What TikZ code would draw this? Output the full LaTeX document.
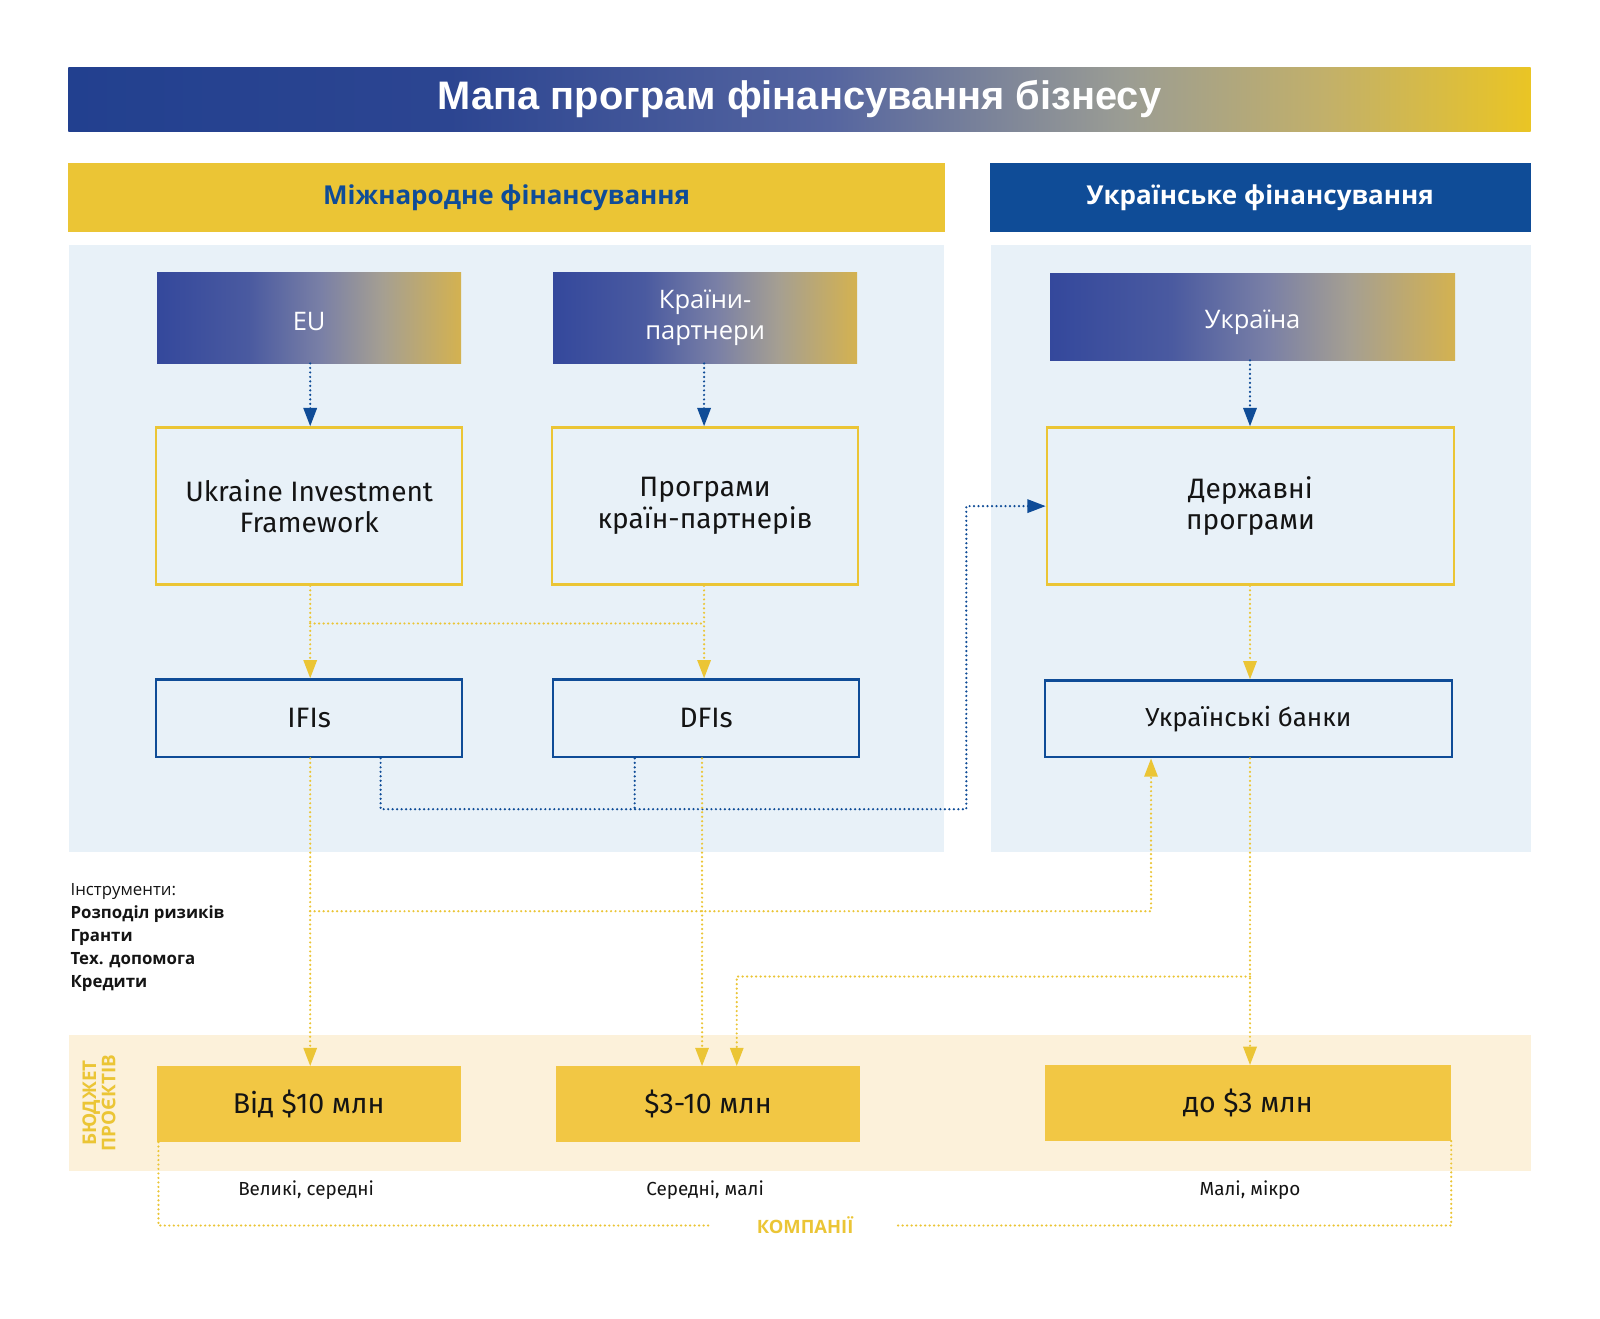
\documentclass[tikz,border=0pt]{standalone}
\usepackage{fontspec}
\setmainfont{Fira Sans}
\newfontfamily\titlefont{Liberation Sans}
\newfontfamily\hdrfont{Open Sans}
\usetikzlibrary{arrows.meta,calc}
\definecolor{navy}{HTML}{0F4C97}
\definecolor{gold}{HTML}{EBC535}
\definecolor{bgold}{HTML}{F2C744}
\definecolor{panel}{HTML}{E8F1F8}
\definecolor{cream}{HTML}{FCF1DA}
\definecolor{ink}{HTML}{141414}
\definecolor{tbA}{HTML}{22408F}
\definecolor{tbB}{HTML}{2C4591}
\definecolor{tbC}{HTML}{5565A0}
\definecolor{tbD}{HTML}{9A9C94}
\definecolor{tbE}{HTML}{C2B06A}
\definecolor{tbF}{HTML}{EAC524}
\definecolor{sbA}{HTML}{34489C}
\definecolor{sbB}{HTML}{4A5AA0}
\definecolor{sbC}{HTML}{7A80A6}
\definecolor{sbD}{HTML}{A59F92}
\definecolor{sbE}{HTML}{D4B250}
\pgfdeclarehorizontalshading{titleshade}{100bp}{color(0bp)=(tbA); color(25bp)=(tbA); color(38bp)=(tbB); color(51bp)=(tbC); color(61bp)=(tbD); color(68bp)=(tbE); color(75bp)=(tbF); color(100bp)=(tbF)}
\pgfdeclarehorizontalshading{boxshade}{100bp}{color(0bp)=(sbA); color(25bp)=(sbA); color(40bp)=(sbB); color(52bp)=(sbC); color(62bp)=(sbD); color(75bp)=(sbE); color(100bp)=(sbE)}
\begin{document}
\begin{tikzpicture}[x=1pt,y=-1pt,
  gbox/.style={shade,shading=boxshade,minimum width=298pt,minimum height=89pt,inner sep=0pt,text=white,align=center,font=\hdrfont\fontsize{25}{30}\selectfont},
  ybox/.style={draw=gold,line width=2.4pt,minimum width=300pt,minimum height=154pt,inner sep=0pt,text=ink,align=center,font=\fontsize{27.5}{31}\selectfont},
  bbox/.style={draw=navy,line width=2.4pt,minimum width=300pt,minimum height=76pt,inner sep=0pt,text=ink,align=center,font=\fontsize{27.5}{31}\selectfont},
  budget/.style={fill=bgold,minimum width=298pt,minimum height=74pt,inner sep=0pt,text=ink,font=\fontsize{28}{30}\selectfont},
  lbl/.style={text=ink,font=\fontsize{18.5}{22}\selectfont},
  bdot/.style={navy,line width=2.4pt,line cap=round,dash pattern=on 0pt off 4.4pt},
  ydot/.style={gold,line width=2.4pt,line cap=round,dash pattern=on 0pt off 4.4pt},
  tip/.style={-{Triangle[width=13pt,length=18pt]}}
]
\useasboundingbox (0,0) rectangle (1568,1292);
\fill[white] (0,0) rectangle (1568,1292);

% title
\node[shade,shading=titleshade,minimum width=1433pt,minimum height=63pt,inner sep=0pt,text=white,font=\titlefont\bfseries\fontsize{39}{42}\selectfont] (title) at (783.5,97.5) {Мапа програм фінансування бізнесу};

% headers
\node[fill=gold,minimum width=859pt,minimum height=67pt,inner sep=0pt,text=navy,font=\hdrfont\bfseries\fontsize{25.5}{30}\selectfont] (hdrL) at (496.5,193.5) {Міжнародне фінансування};
\node[fill=navy,minimum width=530pt,minimum height=67pt,inner sep=0pt,text=white,font=\hdrfont\bfseries\fontsize{25.5}{30}\selectfont] (hdrR) at (1235,193.5) {Українське фінансування};

% panels
\fill[panel] (68,240) rectangle (925,835);
\fill[panel] (971,240) rectangle (1500,835);
\fill[cream] (68,1014) rectangle (1500,1148);

% top gradient boxes
\node[gbox,text height=24pt,text depth=0pt] (eu) at (303,311.5) {EU};
\node[gbox] (kp) at (691,311.5) {Країни-\\партнери};
\node[gbox,minimum width=397pt,minimum height=85pt,text height=23pt,text depth=0pt] (ua) at (1227.5,310.5) {Україна};

% programme boxes
\node[ybox] (uif) at (303,496) {Ukraine Investment\\Framework};
\node[ybox] (pkp) at (691,496) {Програми\\країн-партнерів};
\node[ybox,minimum width=399pt] (dp) at (1225.5,496) {Державні\\програми};

% institutions
\node[bbox] (ifi) at (303,704) {IFIs};
\node[bbox] (dfi) at (692,704) {DFIs};
\node[bbox,minimum width=399pt,minimum height=75pt,font=\fontsize{25.5}{31}\selectfont] (ub) at (1223.5,704.5) {Українські банки};

% budgets
\node[budget] (b1) at (302.5,1082) {Від \$10 млн};
\node[budget] (b2) at (694,1082) {\$3-10 млн};
\node[budget,minimum width=398pt] (b3) at (1223,1081) {до \$3 млн};

\node[lbl] (l1) at (300,1166) {Великі, середні};
\node[lbl] (l2) at (691,1166) {Середні, малі};
\node[lbl] (l3) at (1225,1166) {Малі, мікро};

\node[rotate=90,align=center,text=gold,font=\hdrfont\bfseries\fontsize{18.5}{19}\selectfont] (bp) at (97,1081) {БЮДЖЕТ\\ПРОЄКТІВ};

\node[minimum width=182pt,inner sep=0pt,text=gold,font=\hdrfont\bfseries\fontsize{18}{20}\selectfont] (kom) at (789,1201) {КОМПАНІЇ};

\node[anchor=north west,align=left,inner sep=0pt,text=ink,font=\hdrfont\fontsize{16.5}{22.5}\selectfont] (instr) at (69,866)
  {Інструменти:\\{\bfseries Розподіл ризиків}\\{\bfseries Гранти}\\{\bfseries Тех. допомога}\\{\bfseries Кредити}};

% coordinates
\coordinate (j1) at (304,611);
\coordinate (j2) at (690,611);
\coordinate (c1) at (373,793);
\coordinate (c2) at (947,793);
\coordinate (c3) at (622,793);
\coordinate (c4) at (304,893);
\coordinate (c5) at (1128,893);
\coordinate (c6) at (688,900);
\coordinate (c7) at (1225,957);
\coordinate (c8) at (722,957);

% blue arrows
\draw[bdot,tip] (eu.south -| j1) -- (uif.north -| j1);
\draw[bdot,tip] (kp.south -| j2) -- (pkp.north -| j2);
\draw[bdot,tip] (ua.south -| c7) -- (dp.north -| c7);

% yellow arrows from programmes
\draw[ydot,tip] (uif.south -| j1) -- (ifi.north -| j1);
\draw[ydot,tip] (pkp.south -| j2) -- (dfi.north -| j2);
\draw[ydot] (j1) -- (j2);
\draw[ydot,tip] (dp.south -| c7) -- (ub.north -| c7);

% blue route to state programmes
\draw[bdot,tip] (ifi.south -| c1) -- (c1) -- (c2) |- (dp.west);
\draw[bdot] (dfi.south -| c3) -- (c3);

% yellow routes to budgets
\draw[ydot,tip] (ifi.south -| c4) -- (b1.north -| c4);
\draw[ydot,tip] (c4) -- (c5) -- (ub.south -| c5);
\draw[ydot,tip] (dfi.south -| c6) -- (b2.north -| c6);
\draw[ydot,tip] (ub.south -| c7) -- (b3.north -| c7);
\draw[ydot,tip] (c7) -- (c8) -- (b2.north -| c8);

% companies bracket
\draw[ydot] ($(b1.south west)+(2,0)$) |- (kom.west);
\draw[ydot] (kom.east) -| (b3.south east);
\end{tikzpicture}
\end{document}
